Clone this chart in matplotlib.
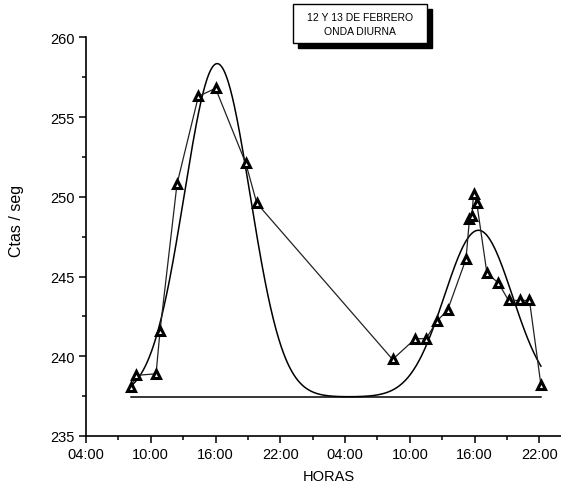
import numpy as np
import matplotlib
matplotlib.use("Agg")
import matplotlib.pyplot as plt
from matplotlib.patches import Rectangle

plt.rcParams['font.family'] = ['Liberation Sans', 'DejaVu Sans']

# Data (hours since 04:00 of the first day)
hours = [4.17, 4.63, 6.49, 6.86, 8.43, 10.41, 12.0, 14.8, 15.82, 28.4, 30.5, 31.5,
         32.5, 33.5, 35.2, 35.52, 35.75, 35.9, 36.2, 37.14, 38.2, 39.14, 40.16, 41.08, 42.14]
counts = [238.1, 238.8, 238.9, 241.6, 250.8, 256.3, 256.8, 252.1, 249.6, 239.8, 241.1, 241.1,
          242.2, 242.9, 246.1, 248.6, 248.8, 250.2, 249.6, 245.2, 244.6, 243.5, 243.5, 243.5, 238.2]

# Two-peak gaussian fit parameters
y0 = 237.45
amps = [20.9, 10.45]
centers = [12.15, 36.35]
widths = [3.05, 3.15]

xticks = [0, 6, 12, 18, 24, 30, 36, 42]
xticklabels = ["04:00", "10:00", "16:00", "22:00", "04:00", "10:00", "16:00", "22:00"]
yticks = [235, 240, 245, 250, 255, 260]

W, H = 561, 485
fig = plt.figure(figsize=(W / 100, H / 100), dpi=100)
ax = fig.add_axes([86 / W, (H - 437) / H, (561 - 86) / W, (437 - 38.3) / H])

xs = np.linspace(hours[0], hours[-1], 600)
fit = y0 + sum(a * np.exp(-(xs - c) ** 2 / (2 * w ** 2)) for a, c, w in zip(amps, centers, widths))
ax.plot(xs, fit, color='black', lw=1.1, zorder=2)
ax.plot([hours[0], hours[-1]], [y0, y0], color='black', lw=1.1, zorder=2)
ax.plot(hours, counts, color='#222222', lw=0.9, marker='^', markersize=6,
        markerfacecolor='white', markeredgecolor='black', markeredgewidth=2.2, zorder=3)

ax.set_xlim(0, 44)
ax.set_ylim(235, 260)
ax.set_xticks(xticks)
ax.set_xticklabels(xticklabels)
ax.set_xticks(np.arange(3, 44, 6), minor=True)
ax.set_yticks(yticks)
ax.set_yticks(np.arange(237.5, 260, 5), minor=True)
ax.tick_params(which='major', direction='out', length=5, width=1.1, labelsize=10.5, pad=3)
ax.tick_params(which='minor', direction='out', length=3, width=1.1)
for s in ['top', 'right']:
    ax.spines[s].set_visible(False)
for s in ['left', 'bottom']:
    ax.spines[s].set_linewidth(1.2)

# y label
fig.text(17 / W, (H - 221) / H, "Ctas / seg", rotation=90, ha='center', va='center',
         fontsize=11.5)

# x label at the bottom edge
fig.text(329 / W, 0.5 / H, "HORAS", ha='center', va='bottom', fontsize=10.5)

# title box with shadow
bx0, by0, bw, bh = 293, 5, 134, 39
fig.patches.append(Rectangle(((bx0 + 5) / W, (H - by0 - bh - 5) / H), bw / W, bh / H,
                             transform=fig.transFigure, facecolor='black', edgecolor='black', zorder=5))
fig.patches.append(Rectangle((bx0 / W, (H - by0 - bh) / H), bw / W, bh / H,
                             transform=fig.transFigure, facecolor='white', edgecolor='black',
                             lw=1.0, zorder=6))
fig.text((bx0 + bw / 2) / W, (H - 18) / H, "12 Y 13 DE FEBRERO", ha='center', va='center',
         fontsize=7.5, zorder=7)
fig.text((bx0 + bw / 2) / W, (H - 32) / H, "ONDA DIURNA", ha='center', va='center',
         fontsize=7.5, zorder=7)

fig.savefig("out.png", dpi=100)
